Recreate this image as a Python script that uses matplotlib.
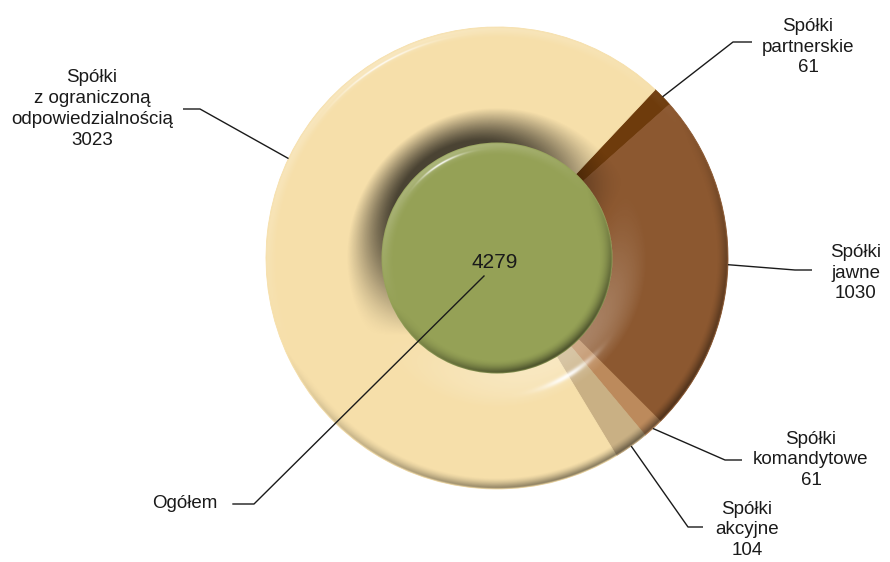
import numpy as np
import matplotlib
matplotlib.use("Agg")
import matplotlib.pyplot as plt

plt.rcParams['font.family'] = ['Liberation Sans', 'DejaVu Sans']

# -- data --
labels = ["Spółki\npartnerskie", "Spółki\njawne", "Spółki\nkomandytowe",
          "Spółki\nakcyjne", "Spółki\nz ograniczoną\nodpowiedzialnością"]
values = [61, 1030, 61, 104, 3023]
colors = ["#6E3B0C", "#8C5830", "#BC8A5C", "#C9B084", "#F6DFAA"]
total_label = "Ogółem"
total = sum(values)
green = "#95A156"

# -- layout (pixels of the 890x562 picture) --
W, H = 890, 562
cx, cy, R = 497, 258, 231   # donut centre and outer radius
inner = 0.5                 # hole radius / outer radius

def px(x, y):
    # picture pixel -> data units (donut centre = 0,0, outer radius = 1)
    return ((x - cx) / R, (cy - y) / R)

# text centre, elbow, end of leader, optional anchor angle override (deg clockwise from 12)
label_pos = [
    ((808, 47), (733, 42), (752, 42), None),
    ((856, 273), (795, 270), (812, 270), None),
    ((811, 460), (725, 460), (742, 460), None),
    ((747, 530), (688, 527), (703, 527), None),
    ((92, 109), (200, 109), (183, 109), 295.5),
]
start_cw = 43.2  # first wedge starts this many degrees clockwise from 12 o'clock


def bevel(r_in, r_out, z_in, z_out, n=900, dark=0.5, dark_in=None, light=0.2, spec_k=0.8,
          tilt=1.3, flat=0.25, light_dir=(-0.45, 0.75, 0.6), pin=1.3, pout=1.5):
    # shading overlay (white/black with alpha) for a bevelled disc or ring
    a = r_out * 1.02
    g = np.linspace(-a, a, n)
    X, Y = np.meshgrid(g, g)
    r = np.hypot(X, Y)
    phi = np.arctan2(Y, X)
    s_out = np.clip((r - (r_out - z_out)) / z_out, 0, 1) ** pout * tilt
    nr = np.sin(s_out)
    nz = np.cos(s_out)
    in_zone = np.zeros_like(r)
    if r_in > 0:
        in_zone = np.clip(((r_in + z_in) - r) / z_in, 0, 1)
        s_in = in_zone ** pin * tilt
        nr = nr - np.sin(s_in)
        nz = nz * np.cos(s_in)
    nx, ny = nr * np.cos(phi), nr * np.sin(phi)
    norm = np.sqrt(nx**2 + ny**2 + nz**2)
    nx, ny, nz = nx / norm, ny / norm, nz / norm
    L = np.array(light_dir, dtype=float)
    L = L / np.linalg.norm(L)
    hl = np.hypot(L[0], L[1])
    Hh = L + np.array([0, 0, 1.0])
    Hh = Hh / np.linalg.norm(Hh)
    rel = (nx * L[0] + ny * L[1]) / hl + (nz - 1) * flat
    spec = np.clip(nx * Hh[0] + ny * Hh[1] + nz * Hh[2], 0, 1) ** 200
    dk = np.where(in_zone > 0, dark if dark_in is None else dark_in, dark)
    val = np.clip(rel, 0, 1) * light + spec * spec_k - np.clip(-rel, 0, 1) * dk
    e = 1.5 / R
    mask = np.clip((r_out - r) / e, 0, 1)
    img = np.zeros((n, n, 4))
    img[..., :3] = (val > 0)[..., None] * 1.0
    img[..., 3] = np.clip(np.abs(val), 0, 1) * mask
    return img, (-a, a, -a, a)


fig = plt.figure(figsize=(W / 100, H / 100), dpi=100)
ax = fig.add_axes([0, 0, 1, 1])

wedges, _ = ax.pie(values, colors=colors, startangle=90 - start_cw, counterclock=False,
                   radius=1, wedgeprops=dict(width=1 - inner, linewidth=0.6))
for w, c in zip(wedges, colors):
    w.set_edgecolor(c)

img, ext = bevel(inner, 1.0, 0.15, 0.05, dark=0.45, dark_in=0.7, light=0.35, pin=1.0)
ax.imshow(img, extent=ext, origin='lower', interpolation='bilinear', zorder=3)

ax.pie([total], colors=[green], radius=inner, wedgeprops=dict(linewidth=0), startangle=90)
ax.patches[-1].set_zorder(4)
img2, ext2 = bevel(0, inner, 0, 0.06, dark=0.5, light=0.3, spec_k=0.9, pout=1.8)
ax.imshow(img2, extent=ext2, origin='lower', interpolation='bilinear', zorder=5)

# labels with leader lines
lc = "#1a1a1a"
for w, lab, v, (tp, el, en, ang) in zip(wedges, labels, values, label_pos):
    if ang is None:
        ang = (90 - (w.theta1 + w.theta2) / 2) % 360
    t = np.deg2rad(ang)
    anchor = (np.sin(t), np.cos(t))
    e1, e2 = px(*el), px(*en)
    ax.plot([anchor[0], e1[0], e2[0]], [anchor[1], e1[1], e2[1]], color=lc, lw=1.0, zorder=6,
            solid_capstyle='butt')
    ax.text(*px(*tp), f"{lab}\n{v}", ha='center', va='center', fontsize=13.5,
            color=lc, linespacing=1.3, zorder=7)

ax.text(*px(495, 263), f"{total}", ha='center', va='center', fontsize=15, color=lc, zorder=7)
a0, a1, a2 = px(484, 276), px(254, 504), px(233, 504)
ax.plot([a0[0], a1[0], a2[0]], [a0[1], a1[1], a2[1]], color=lc, lw=1.0, zorder=6)
ax.text(*px(185, 504), total_label, ha='center', va='center', fontsize=13.5, color=lc, zorder=7)

ax.set_xlim(-cx / R, (W - cx) / R)
ax.set_ylim((cy - H) / R, cy / R)
ax.set_aspect('auto')
ax.axis('off')

plt.savefig("out.png", dpi=100)
plt.close()
